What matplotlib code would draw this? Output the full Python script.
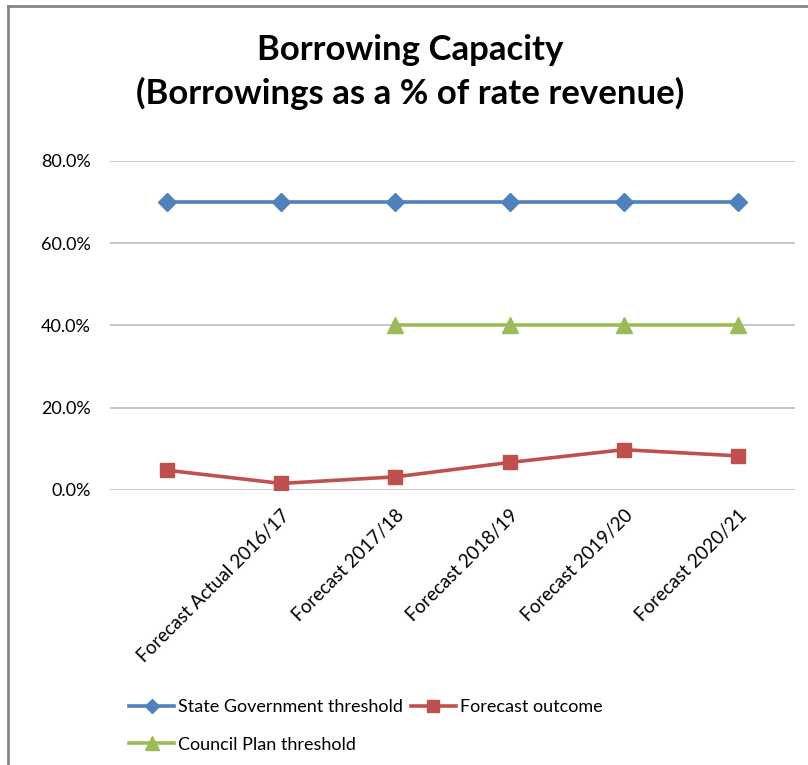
import numpy as np
import matplotlib.pyplot as plt
from matplotlib.lines import Line2D
from matplotlib.ticker import PercentFormatter

plt.rcParams['font.family'] = ['Lato', 'DejaVu Sans']

periods = ['', 'Forecast Actual 2016/17', 'Forecast 2017/18', 'Forecast 2018/19',
           'Forecast 2019/20', 'Forecast 2020/21']
state_threshold = [70, 70, 70, 70, 70, 70]
forecast_outcome = [4.8, 1.6, 3.2, 6.7, 9.8, 8.3]
council_threshold = [np.nan, np.nan, 40, 40, 40, 40]

fig = plt.figure(figsize=(8.08, 7.65), dpi=100)
ax = fig.add_axes([110 / 808, 1 - 490 / 765, 685 / 808, 329 / 765])

x = np.arange(len(periods))
h_state, = ax.plot(x, state_threshold, color='#4F81BD', lw=2.6, marker='D', ms=9,
                   label='State Government threshold')
h_fore, = ax.plot(x, forecast_outcome, color='#C0504D', lw=2.6, marker='s', ms=10,
                  label='Forecast outcome')
h_council, = ax.plot(x, council_threshold, color='#9BBB59', lw=2.6, marker='^', ms=12,
                     label='Council Plan threshold')

ax.set_xlim(-0.5, len(periods) - 0.5)
ax.set_ylim(0, 80)
ax.set_yticks([0, 20, 40, 60, 80])
ax.yaxis.set_major_formatter(PercentFormatter(decimals=1))
ax.grid(axis='y', color='#BEBEBE', lw=1.2)
ax.set_axisbelow(True)
for s in ax.spines.values():
    s.set_visible(False)
ax.tick_params(axis='y', length=0, labelsize=13, pad=14)
ax.tick_params(axis='x', length=0, labelsize=13.5, pad=12)
ax.set_xticks(x)
ax.set_xticklabels(periods, rotation=45, ha='right', rotation_mode='anchor')

fig.text(0.508, 1 - 72 / 765, 'Borrowing Capacity\n(Borrowings as a % of rate revenue)',
         ha='center', va='center', fontsize=25, fontweight='bold', linespacing=1.4)

# column-wise fill: State / Council in the first column, Forecast in the second
ax.legend(handles=[h_state, h_council, h_fore],
          loc='upper left', bbox_to_anchor=(120 / 808, 1 - 690 / 765),
          bbox_transform=fig.transFigure, ncol=2, frameon=False, fontsize=13,
          handlelength=2.5, handletextpad=0.2, columnspacing=0.45,
          labelspacing=1.2, borderpad=0, markerscale=0.8)

# chart area border (top and left edges)
fig.add_artist(Line2D([8 / 808, 1], [1 - 6 / 765, 1 - 6 / 765], color='#868686', lw=2))
fig.add_artist(Line2D([8 / 808, 8 / 808], [0, 1 - 6 / 765], color='#868686', lw=2))

fig.savefig('out.png', dpi=100)
